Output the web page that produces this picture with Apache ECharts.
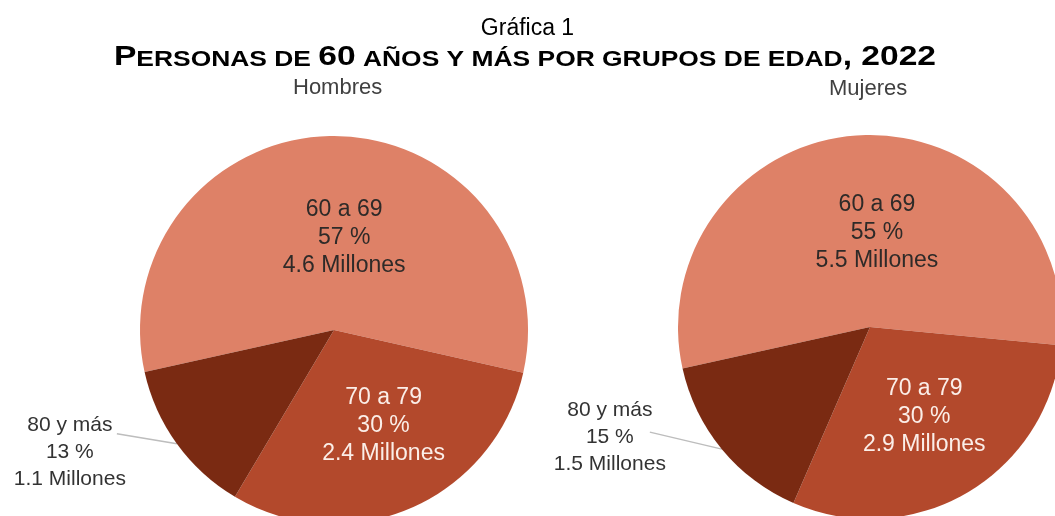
<!DOCTYPE html>
<html>
<head>
<meta charset="utf-8">
<title>Gráfica 1</title>
<script src="https://cdn.jsdelivr.net/npm/echarts@6/dist/echarts.min.js"></script>
<style>
html, body { margin: 0; padding: 0; background: #fff; }
#chart { width: 1055px; height: 516px; }
</style>
</head>
<body>
<div id="chart"></div>
<script>
var grupos = ['60 a 69', '70 a 79', '80 y más'];
var pctHombres = [57, 30, 13];
var pctMujeres = [55, 30, 15];
var millHombres = [4.6, 2.4, 1.1];
var millMujeres = [5.5, 2.9, 1.5];
var sexos = ['Hombres', 'Mujeres'];

var fuente = '"Liberation Sans", Arial, sans-serif';
var colores = ['#DE8167', '#B3492C', '#7A2A12'];
var colorTexto = ['#2e2a28', '#fbeee8', '#333333'];

// ajustes finos de las etiquetas (px)
var ajusteDentro = [[[10, 8], [10, 4]], [[13, 4], [4, 4]]];
var ajusteFuera = [[-107, 8], [-112, -12]];
var finLinea = [[-60, -10], [-72, -17]];

function armarDatos(pct, mill) {
    return grupos.map(function (g, i) {
        var d = {
            name: g,
            value: pct[i],
            mill: mill[i],
            itemStyle: { color: colores[i] },
            label: { color: colorTexto[i] }
        };
        if (i === 2) {
            d.label.position = 'outside';
            d.label.fontSize = 21;
            d.label.lineHeight = 27;
            d.labelLine = { show: true };
        }
        return d;
    });
}

function serie(pct, mill, centro, radio, inicio) {
    return {
        type: 'pie',
        center: centro,
        radius: radio,
        startAngle: inicio,
        clockwise: true,
        avoidLabelOverlap: false,
        silent: true,
        animation: false,
        label: {
            show: true,
            position: 'inside',
            fontFamily: fuente,
            fontSize: 23,
            lineHeight: 28,
            formatter: function (p) {
                return p.name + '\n' + p.value + ' %\n' + p.data.mill + ' Millones';
            }
        },
        labelLine: {
            show: false,
            length: 10,
            length2: 10,
            lineStyle: { color: '#bdbdbd', width: 1.5 }
        },
        labelLayout: function (params) {
            var s = params.seriesIndex;
            if (params.dataIndex < 2) {
                var a = ajusteDentro[s][params.dataIndex];
                return { dx: a[0], dy: a[1] };
            }
            var p = params.labelLinePoints ? params.labelLinePoints[0] : null;
            if (!p) return {};
            var c = ajusteFuera[s], f = finLinea[s];
            var fin = [p[0] + f[0], p[1] + f[1]];
            return {
                x: p[0] + c[0],
                y: p[1] + c[1],
                align: 'center',
                verticalAlign: 'middle',
                labelLinePoints: [p, [(p[0] + fin[0]) / 2, (p[1] + fin[1]) / 2], fin]
            };
        },
        data: armarDatos(pct, mill)
    };
}

var myChart = echarts.init(document.getElementById('chart'));
var option = {
    backgroundColor: '#fff',
    title: [
        {
            text: 'Gráfica 1',
            left: 'center',
            top: 12,
            textStyle: { fontFamily: fuente, fontSize: 23, fontWeight: 'normal', color: '#000' }
        },
        {
            text: sexos[0],
            left: 288,
            top: 72,
            textStyle: { fontFamily: fuente, fontSize: 22, fontWeight: 'normal', color: '#404040' }
        },
        {
            text: sexos[1],
            left: 824,
            top: 73,
            textStyle: { fontFamily: fuente, fontSize: 22, fontWeight: 'normal', color: '#404040' }
        }
    ],
    // subtitulo en versalitas
    graphic: [{
        type: 'text',
        x: 525,
        y: 56,
        scaleX: 1.2,
        silent: true,
        style: {
            text: '{b|P}{s|ERSONAS DE }{b|60}{s| AÑOS Y MÁS POR GRUPOS DE EDAD}{b|, 2022}',
            x: 0,
            y: 0,
            align: 'center',
            textAlign: 'center',
            verticalAlign: 'middle',
            textVerticalAlign: 'middle',
            rich: {
                b: { fontFamily: fuente, fontSize: 28, fontWeight: 'bold', fill: '#000', verticalAlign: 'bottom', lineHeight: 30 },
                s: { fontFamily: fuente, fontSize: 22, fontWeight: 'bold', fill: '#000', verticalAlign: 'bottom', lineHeight: 30 }
            }
        }
    }],
    series: [
        serie(pctHombres, millHombres, [334, 330], 194, 192.5),
        serie(pctMujeres, millMujeres, [870, 327], 192, 192.5)
    ]
};
myChart.setOption(option);
</script>
</body>
</html>
